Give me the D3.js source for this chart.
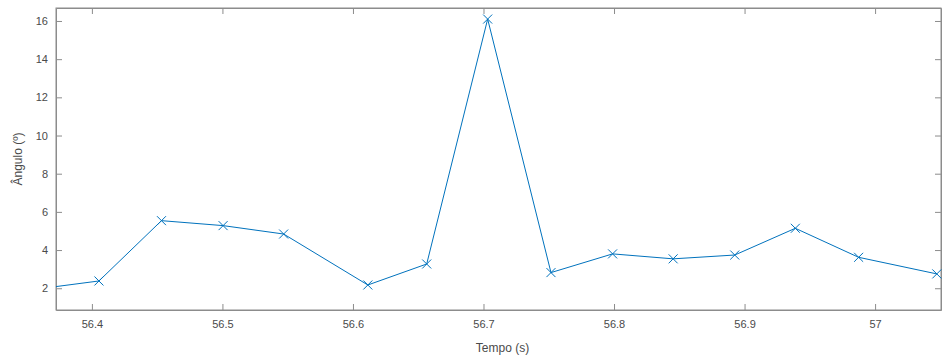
<!DOCTYPE html>
<html>
<head>
<meta charset="utf-8">
<script src="https://cdn.jsdelivr.net/npm/d3@7"></script>
<style>
  html, body { margin: 0; padding: 0; background: #fff; }
  svg { display: block; font-family: "Liberation Sans", Arial, sans-serif; }
</style>
</head>
<body>
<svg id="chart" width="944" height="360"></svg>
<script>
// Sample times (s) and measured angle (degrees)
const tempo = [56.3572, 56.4054, 56.4533, 56.5005, 56.5469, 56.6114, 56.6565,
               56.7032, 56.7517, 56.7989, 56.8453, 56.8925, 56.9389, 56.9874, 57.0473];
const angulo = [1.95, 2.38, 5.54, 5.28, 4.84, 2.17, 3.27,
                16.1, 2.82, 3.80, 3.54, 3.74, 5.14, 3.62, 2.75];

const xTicks = [56.4, 56.5, 56.6, 56.7, 56.8, 56.9, 57];
const xTickLabels = ["56.4", "56.5", "56.6", "56.7", "56.8", "56.9", "57"];
const yTicks = [2, 4, 6, 8, 10, 12, 14, 16];

const xDomain = [56.3725, 57.0505];
const yDomain = [0.86, 16.68];

const svg = d3.select("#chart");
const m = { left: 56, right: 3, top: 8, bottom: 50 };
const W = 944, H = 360;
const iw = W - m.left - m.right, ih = H - m.top - m.bottom;

const x = d3.scaleLinear().domain(xDomain).range([0, iw]);
const y = d3.scaleLinear().domain(yDomain).range([ih, 0]);

const g = svg.append("g").attr("transform", `translate(${m.left},${m.top})`);

svg.append("defs").append("clipPath").attr("id", "plotclip")
  .append("rect").attr("width", iw).attr("height", ih);

const axisColor = "#8c8c8c";
const textColor = "#4a4a4a";
const tickLen = 6;

// Bottom and left axes with inward ticks
const xAxis = g.append("g").attr("transform", `translate(0,${ih})`)
  .call(d3.axisBottom(x).tickValues(xTicks)
    .tickFormat((d, i) => xTickLabels[i]).tickSizeInner(-tickLen).tickSizeOuter(0).tickPadding(10));
const yAxis = g.append("g")
  .call(d3.axisLeft(y).tickValues(yTicks).tickSizeInner(-tickLen).tickSizeOuter(0).tickPadding(8));

// Top and right mirror ticks (box)
g.append("g").call(d3.axisTop(x).tickValues(xTicks).tickFormat("").tickSizeInner(-tickLen).tickSizeOuter(0));
g.append("g").attr("transform", `translate(${iw},0)`)
  .call(d3.axisRight(y).tickValues(yTicks).tickFormat("").tickSizeInner(-tickLen).tickSizeOuter(0));

g.selectAll(".domain").attr("stroke", axisColor).attr("stroke-width", 1);
g.selectAll(".tick line").attr("stroke", axisColor);
g.selectAll(".tick text").attr("fill", textColor).attr("font-size", 11);

// Box outline
g.append("rect").attr("width", iw).attr("height", ih)
  .attr("fill", "none").attr("stroke", axisColor).attr("stroke-width", 1);

// Data line and 'x' markers
const pts = tempo.map((t, i) => [t, angulo[i]]);
const plot = g.append("g").attr("clip-path", "url(#plotclip)");
const blue = "#0072BD";

plot.append("path").datum(pts)
  .attr("fill", "none").attr("stroke", blue).attr("stroke-width", 1)
  .attr("d", d3.line().x(d => x(d[0])).y(d => y(d[1])));

const ms = 4.5;
g.append("g").selectAll("path.mk").data(pts.filter(d => d[0] >= xDomain[0] && d[0] <= xDomain[1]))
  .join("path").attr("class", "mk")
  .attr("fill", "none").attr("stroke", blue).attr("stroke-width", 1)
  .attr("d", d => {
    const cx = x(d[0]), cy = y(d[1]);
    return `M${cx - ms},${cy - ms}L${cx + ms},${cy + ms}M${cx - ms},${cy + ms}L${cx + ms},${cy - ms}`;
  });

// Axis labels
svg.append("text").attr("x", m.left + iw / 2 + 4).attr("y", 352)
  .attr("text-anchor", "middle").attr("font-size", 12).attr("fill", textColor)
  .text("Tempo (s)");
svg.append("text")
  .attr("transform", `translate(22,${m.top + ih / 2}) rotate(-90)`)
  .attr("text-anchor", "middle").attr("font-size", 12).attr("fill", textColor)
  .text("Ângulo (º)");
</script>
</body>
</html>
